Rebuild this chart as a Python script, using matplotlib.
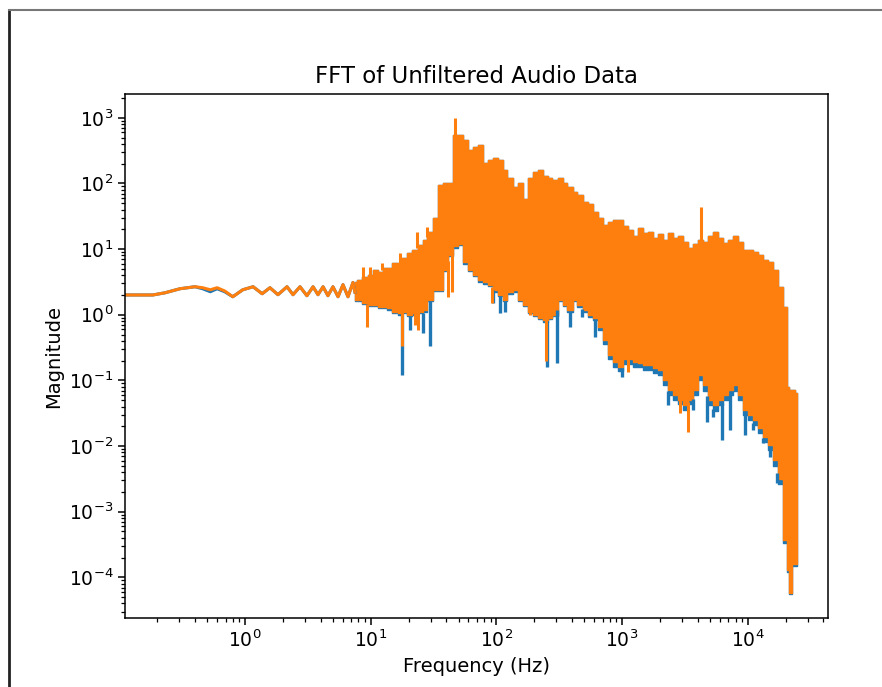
import matplotlib
matplotlib.use("Agg")
import matplotlib.pyplot as plt
import numpy as np
from matplotlib.lines import Line2D
from matplotlib.ticker import FixedLocator, LogLocator, NullFormatter

# --- low-frequency part of the spectrum (DC bin first) ---------------------
low_freq = [0.0, 0.185, 0.231, 0.304, 0.40, 0.46, 0.53, 0.60, 0.69, 0.80, 0.96,
            1.16, 1.37, 1.58, 1.83, 2.16, 2.41, 2.74, 3.11, 3.48, 3.81, 4.18,
            4.57, 5.01, 5.50, 6.02, 6.60, 7.23, 7.5]
low_mag_blue = [2.0, 2.0, 2.16, 2.49, 2.67, 2.49, 2.24, 2.49, 2.24, 1.88, 2.4,
                2.67, 2.09, 2.58, 2.02, 2.67, 2.02, 2.67, 1.95, 2.67, 2.02, 2.67,
                1.95, 2.67, 1.88, 2.87, 1.88, 3.1, 2.2]
low_mag_orange = [2.0, 2.0, 2.16, 2.49, 2.67, 2.58, 2.4, 2.58, 2.3, 1.88, 2.4,
                  2.67, 2.09, 2.58, 2.02, 2.67, 2.02, 2.67, 1.95, 2.67, 2.02, 2.67,
                  1.95, 2.67, 1.88, 2.87, 1.88, 3.1, 2.2]

# --- dense part: envelope of the rapidly oscillating magnitude --------------
band_freq = [7.5, 8.2, 9.0, 9.9, 10.8, 11.9, 13.0, 14.2, 15.6, 17.1,
             18.7, 20.5, 22.5, 24.7, 27.0, 29.6, 32.5, 35.6, 39.0, 42.7,
             46.9, 51.3, 56.3, 61.7, 67.6, 74.1, 81.2, 89.0, 97.5, 107,
             117, 128, 141, 154, 169, 185, 203, 222, 244, 267,
             292, 321, 351, 385, 422, 462, 507, 555, 609, 667,
             731, 801, 878, 962, 1054, 1156, 1267, 1388, 1521, 1667,
             1827, 2003, 2195, 2405, 2636, 2889, 3166, 3470, 3803, 4168,
             4568, 5006, 5486, 6012, 6589, 7221, 7913, 8672, 9504, 10415,
             11414, 12509, 13709, 15023, 16464, 18043, 19773, 20890, 21669, 22900,
             24600]
band_upper = [3.1, 3.4, 3.7, 4.1, 4.85, 4.5, 5.2, 5.2, 6.2, 5.8,
              7.4, 8.8, 9.8, 11.7, 13.9, 18.4, 30.0, 95.0, 100.0, 100.0,
              555.0, 555.0, 465.0, 327.0, 364.0, 390.0, 207.0, 231.0, 247.0, 231.0,
              162.0, 123.0, 89.0, 103.0, 57.0, 123.0, 151.0, 162.0, 131.0, 123.0,
              114.0, 123.0, 103.0, 89.0, 75.0, 67.0, 53.0, 48.0, 37.0, 30.0,
              23.6, 26.0, 28.0, 28.0, 22.7, 19.8, 16.0, 21.2, 17.8, 18.4,
              14.9, 17.2, 13.9, 17.8, 14.9, 16.0, 13.0, 10.5, 12.1, 13.9,
              13.0, 16.0, 18.4, 14.9, 12.5, 13.9, 16.0, 13.0, 9.8, 9.8,
              9.1, 8.2, 6.9, 6.4, 4.85, 2.67, 1.32, 0.080, 0.072, 0.072,
              0.065]
band_lower_orange = [1.69, 1.69, 1.52, 1.42, 1.42, 1.32, 1.32, 1.28, 1.11, 1.07,
                     1.11, 1.0, 1.07, 1.11, 1.19, 1.69, 2.4, 2.4, 4.85, 8.2,
                     11.0, 12.0, 6.4, 4.85, 4.1, 3.4, 3.1, 2.87, 2.4, 2.02,
                     1.69, 2.24, 2.4, 1.69, 1.42, 1.11, 1.0, 0.90, 0.84, 0.90,
                     1.0, 1.69, 1.42, 1.19, 1.69, 1.42, 1.19, 1.0, 0.90, 0.66,
                     0.41, 0.24, 0.19, 0.16, 0.21, 0.21, 0.19, 0.185, 0.17, 0.17,
                     0.155, 0.145, 0.10, 0.072, 0.060, 0.051, 0.042, 0.051, 0.072, 0.12,
                     0.086, 0.051, 0.042, 0.051, 0.060, 0.072, 0.086, 0.060, 0.036, 0.030,
                     0.025, 0.019, 0.0138, 0.0105, 0.0061, 0.0031, 3.7e-4, 1.3e-4, 5.8e-5, 1.6e-4,
                     1.6e-4]
band_lower_blue = [1.6, 1.6, 1.45, 1.35, 1.35, 1.25, 1.25, 1.2, 1.05, 1.0,
                   1.05, 0.95, 1.0, 1.05, 1.1, 1.6, 2.3, 2.3, 4.6, 7.8,
                   10.5, 11.5, 6.0, 4.6, 3.9, 3.2, 2.9, 2.7, 2.2, 1.9,
                   1.6, 2.1, 2.2, 1.6, 1.35, 1.05, 0.95, 0.85, 0.78, 0.85,
                   0.95, 1.6, 1.35, 1.1, 1.6, 1.3, 1.1, 0.92, 0.82, 0.58,
                   0.36, 0.21, 0.16, 0.14, 0.18, 0.18, 0.16, 0.16, 0.145, 0.145,
                   0.13, 0.12, 0.085, 0.060, 0.050, 0.043, 0.035, 0.043, 0.060, 0.10,
                   0.070, 0.042, 0.034, 0.042, 0.050, 0.060, 0.070, 0.050, 0.030, 0.025,
                   0.021, 0.016, 0.0115, 0.0088, 0.0050, 0.0026, 3.3e-4, 1.2e-4, 5.5e-5, 1.5e-4,
                   1.5e-4]

# narrow excursions sticking out of the envelope
blue_dip_freq = [17.7, 20.5, 26.1, 29.6, 94.0, 107, 117, 253, 303, 385, 480, 609,
                 831, 998, 2318, 3664, 4740, 5288, 6234, 7221, 9504, 10990, 13210,
                 15023, 17070]
blue_dip_mag = [0.12, 0.59, 0.53, 0.33, 1.5, 1.07, 1.1, 0.16, 0.185, 0.66, 0.93, 0.46,
                0.19, 0.114, 0.042, 0.036, 0.023, 0.028, 0.0124, 0.0177, 0.0148, 0.0177,
                0.0112, 0.0068, 0.0027]
orange_dip_freq = [9.35, 17.7, 22.5, 24.0, 41.2, 44.5, 92.0, 185, 250, 1114, 2889, 3343]
orange_dip_mag = [0.66, 0.33, 0.70, 0.59, 1.88, 2.2, 1.52, 1.0, 0.20, 0.135, 0.032, 0.0165]
orange_peak_freq = [8.68, 9.87, 12.3, 17.1, 23.4, 28.0, 46.9, 4250]
orange_peak_mag = [5.4, 5.4, 6.2, 8.8, 18.0, 22.0, 1000.0, 44.0]

x_ticks = [1e0, 1e1, 1e2, 1e3, 1e4]
y_ticks = [1e-4, 1e-3, 1e-2, 1e-1, 1e0, 1e1, 1e2, 1e3]

BLUE = "#1f77b4"
ORANGE = "#ff7f0e"


def envelope_at(freqs, env):
    """Envelope value (log-log) at the given frequencies."""
    return 10 ** np.interp(np.log10(freqs), np.log10(band_freq), np.log10(env))


fig = plt.figure(figsize=(8.82, 6.87), dpi=100)
ax = fig.add_axes([0.1417, 0.1004, 0.7971, 0.7627])
ax.set_xscale("log")
ax.set_yscale("log")

# blue trace (mostly hidden underneath the orange one)
ax.fill_between(band_freq, band_lower_blue, band_upper, step="mid", color=BLUE, lw=1.0)
ax.plot(low_freq, low_mag_blue, color=BLUE, lw=2.2)
ax.vlines(blue_dip_freq, blue_dip_mag, envelope_at(blue_dip_freq, band_lower_blue),
          color=BLUE, lw=2.4)

# orange trace
ax.fill_between(band_freq, band_lower_orange, band_upper, step="mid", color=ORANGE, lw=1.0)
ax.plot(low_freq, low_mag_orange, color=ORANGE, lw=2.2)
ax.vlines(orange_dip_freq, orange_dip_mag, envelope_at(orange_dip_freq, band_lower_orange),
          color=ORANGE, lw=2.2)
ax.vlines(orange_peak_freq, envelope_at(orange_peak_freq, band_upper), orange_peak_mag,
          color=ORANGE, lw=2.2)

ax.set_xlim(0.111, 43500)
ax.set_ylim(2.4e-5, 2300)
ax.xaxis.set_major_locator(FixedLocator(x_ticks))
ax.yaxis.set_major_locator(FixedLocator(y_ticks))
for axis in (ax.xaxis, ax.yaxis):
    axis.set_minor_locator(LogLocator(base=10, subs=np.arange(2, 10), numticks=100))
    axis.set_minor_formatter(NullFormatter())

ax.set_title("FFT of Unfiltered Audio Data", fontsize=16.5, pad=8)
ax.set_xlabel("Frequency (Hz)", fontsize=14)
ax.set_ylabel("Magnitude", fontsize=14)
ax.tick_params(which="major", labelsize=13.5, length=5, width=1.1)
ax.tick_params(which="minor", length=2.8, width=0.9)
for sp in ax.spines.values():
    sp.set_linewidth(1.1)

# window border around the figure
fig.add_artist(Line2D([9 / 882, 9 / 882], [0, 677 / 687], color="#222222", lw=2.0))
fig.add_artist(Line2D([9 / 882, 1], [677 / 687, 677 / 687], color="#777777", lw=1.5))

fig.savefig("out.png", dpi=100)
